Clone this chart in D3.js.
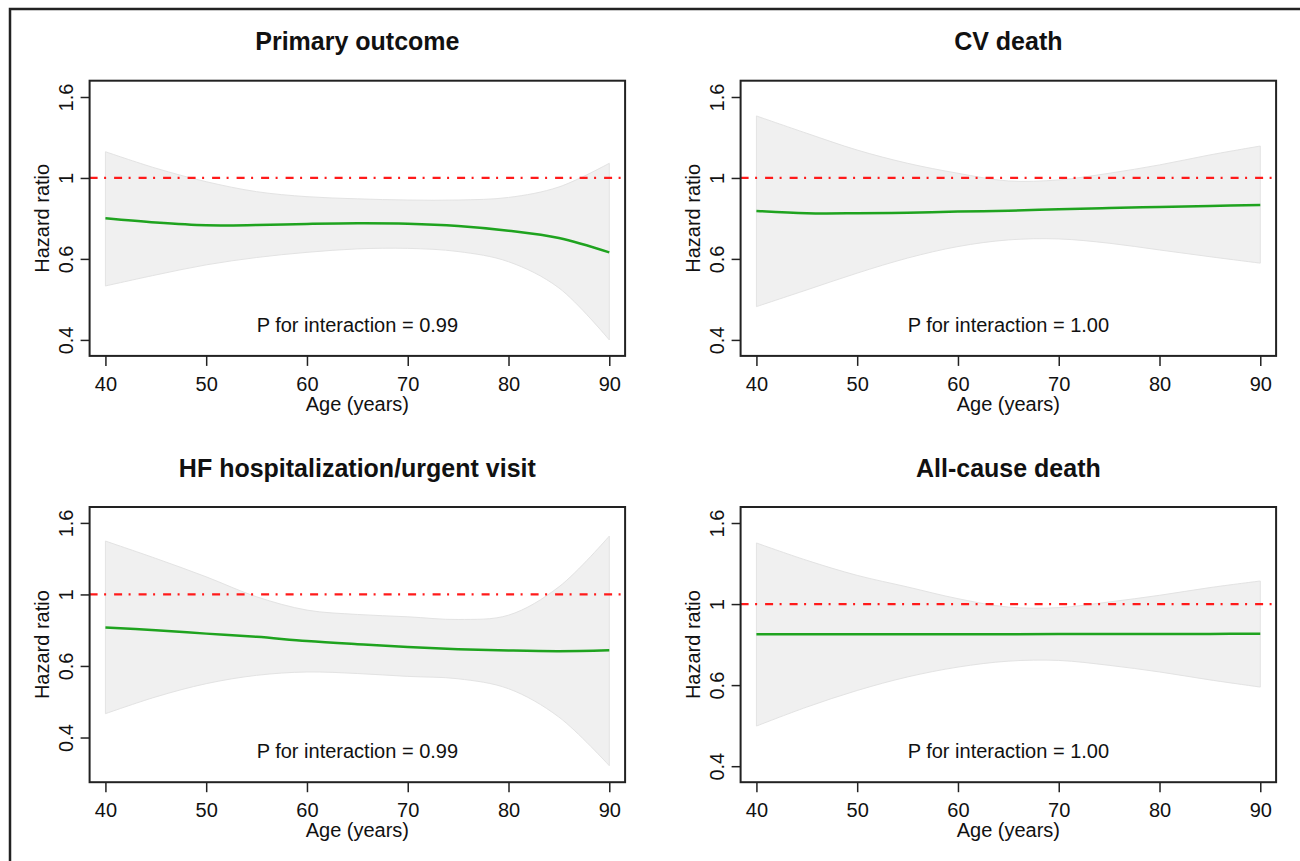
<html>
<head>
<meta charset="utf-8">
<title>Hazard ratio by age</title>
<style>
  body { margin: 0; background: #fff; }
  svg { display: block; }
  text { font-family: Arial, "Liberation Sans", sans-serif; fill: #111; }
</style>
</head>
<body>
<script src="https://d3js.org/d3.v7.min.js"></script>
<script>
// ---- data ----
var ages = [40, 45, 50, 55, 60, 65, 70, 75, 80, 85, 90];

var titles = ["Primary outcome", "CV death", "HF hospitalization/urgent visit", "All-cause death"];
var pValues = ["P for interaction = 0.99", "P for interaction = 1.00", "P for interaction = 0.99", "P for interaction = 1.00"];

var xTicks = [40, 50, 60, 70, 80, 90];
var yTickValues = [0.398, 0.631, 1, 1.585];
var yTickLabels = ["0.4", "0.6", "1", "1.6"];

// y ranges of each panel (log axis)
var yLimits = [[0.3634, 1.739], [0.3634, 1.739], [0.2985, 1.756], [0.3634, 1.736]];

var primaryHR = [0.795, 0.776, 0.764, 0.765, 0.770, 0.773, 0.771, 0.761, 0.741, 0.711, 0.655];
var primaryLo = [0.541, 0.576, 0.610, 0.636, 0.655, 0.668, 0.670, 0.658, 0.621, 0.535, 0.398];
var primaryHi = [1.161, 1.057, 0.979, 0.925, 0.899, 0.888, 0.882, 0.882, 0.895, 0.950, 1.087];

var cvHR = [0.829, 0.818, 0.818, 0.821, 0.826, 0.830, 0.837, 0.843, 0.848, 0.853, 0.858];
var cvLo = [0.481, 0.529, 0.582, 0.634, 0.677, 0.703, 0.707, 0.690, 0.664, 0.639, 0.616];
var cvHi = [1.423, 1.289, 1.172, 1.087, 1.027, 0.983, 0.989, 1.027, 1.077, 1.140, 1.199];

var hfHR = [0.808, 0.794, 0.777, 0.761, 0.741, 0.726, 0.713, 0.703, 0.697, 0.694, 0.698];
var hfLo = [0.464, 0.517, 0.563, 0.594, 0.607, 0.601, 0.590, 0.581, 0.545, 0.454, 0.332];
var hfHi = [1.410, 1.261, 1.120, 0.985, 0.904, 0.879, 0.866, 0.851, 0.875, 1.050, 1.456];

var allHR = [0.842, 0.842, 0.842, 0.842, 0.842, 0.842, 0.843, 0.843, 0.844, 0.844, 0.845];
var allLo = [0.500, 0.557, 0.612, 0.661, 0.699, 0.723, 0.726, 0.706, 0.680, 0.650, 0.624];
var allHi = [1.415, 1.282, 1.177, 1.102, 1.031, 0.983, 0.980, 1.012, 1.051, 1.098, 1.140];

var series = [
  [primaryHR, primaryLo, primaryHi],
  [cvHR, cvLo, cvHi],
  [hfHR, hfLo, hfHi],
  [allHR, allLo, allHi]
];

// ---- layout ----
var W = 1300, H = 861;
var boxW = 535.5, boxH = 275.2;
var lefts = [89.6, 740.6], tops = [80.7, 507];
var smooth = d3.curveCatmullRom.alpha(0.5);

var svg = d3.select('body').append('svg')
  .attr('width', W)
  .attr('height', H);

// outer frame (top and left edges only are visible)
svg.append('path')
  .attr('d', 'M10,' + H + 'L10,9L' + W + ',9')
  .attr('fill', 'none')
  .attr('stroke', '#222')
  .attr('stroke-width', 2.5);

titles.forEach(function(title, i) {
  var left = lefts[i % 2], top = tops[Math.floor(i / 2)];
  var g = svg.append('g').attr('transform', 'translate(' + left + ',' + top + ')');

  var x = d3.scaleLinear().domain([38.43, 91.57]).range([0, boxW]);
  var y = d3.scaleLog().domain(yLimits[i]).range([boxH, 0]);

  var hr = series[i][0], lo = series[i][1], hi = series[i][2];
  var pts = ages.map(function(a, j) { return { age: a, hr: hr[j], lo: lo[j], hi: hi[j] }; });

  // confidence band
  g.append('path')
    .datum(pts)
    .attr('d', d3.area()
      .curve(smooth)
      .x(function(d) { return x(d.age); })
      .y0(function(d) { return y(d.lo); })
      .y1(function(d) { return y(d.hi); }))
    .attr('fill', '#f0f0f0')
    .attr('stroke', '#e3e3e3')
    .attr('stroke-width', 1);

  // reference line at HR = 1
  g.append('line')
    .attr('x1', 0).attr('x2', boxW)
    .attr('y1', y(1)).attr('y2', y(1))
    .attr('stroke', '#ff1a1a')
    .attr('stroke-width', 2.2)
    .attr('stroke-dasharray', '8,6.5,2,8');

  // fitted HR
  g.append('path')
    .datum(pts)
    .attr('d', d3.line()
      .curve(smooth)
      .x(function(d) { return x(d.age); })
      .y(function(d) { return y(d.hr); }))
    .attr('fill', 'none')
    .attr('stroke', '#1fa31f')
    .attr('stroke-width', 2.5);

  // x axis
  var xa = g.append('g')
    .attr('transform', 'translate(0,' + boxH + ')')
    .call(d3.axisBottom(x).tickValues(xTicks).tickSize(10).tickSizeOuter(0));
  xa.select('.domain').remove();
  xa.selectAll('line').attr('stroke', '#222').attr('stroke-width', 1.5);
  xa.selectAll('text')
    .attr('y', 35).attr('dy', 0)
    .style('font-size', '20px')
    .style('font-family', 'Arial, "Liberation Sans", sans-serif')
    .attr('fill', '#111');

  // y axis
  var ya = g.append('g')
    .call(d3.axisLeft(y).tickValues(yTickValues).tickSize(9)
      .tickFormat(function(d, j) { return yTickLabels[j]; }));
  ya.select('.domain').remove();
  ya.selectAll('line').attr('stroke', '#222').attr('stroke-width', 1.5);
  ya.selectAll('text')
    .attr('transform', 'rotate(-90)')
    .attr('x', 0).attr('y', -16.6).attr('dy', 0)
    .attr('text-anchor', 'middle')
    .style('font-size', '20px')
    .style('font-family', 'Arial, "Liberation Sans", sans-serif')
    .attr('fill', '#111');

  // plot box
  g.append('rect')
    .attr('width', boxW).attr('height', boxH)
    .attr('fill', 'none')
    .attr('stroke', '#222')
    .attr('stroke-width', 2);

  // texts
  g.append('text')
    .attr('x', boxW / 2).attr('y', -30.5)
    .attr('text-anchor', 'middle')
    .style('font-size', '25px')
    .style('font-weight', 'bold')
    .text(title);

  g.append('text')
    .attr('x', boxW / 2).attr('y', boxH + 55)
    .attr('text-anchor', 'middle')
    .style('font-size', '20px')
    .text('Age (years)');

  g.append('text')
    .attr('transform', 'translate(-41,' + (boxH / 2) + ') rotate(-90)')
    .attr('text-anchor', 'middle')
    .style('font-size', '20px')
    .text('Hazard ratio');

  g.append('text')
    .attr('x', x(65)).attr('y', boxH - 24)
    .attr('text-anchor', 'middle')
    .style('font-size', '20px')
    .text(pValues[i]);
});
</script>
</body>
</html>
